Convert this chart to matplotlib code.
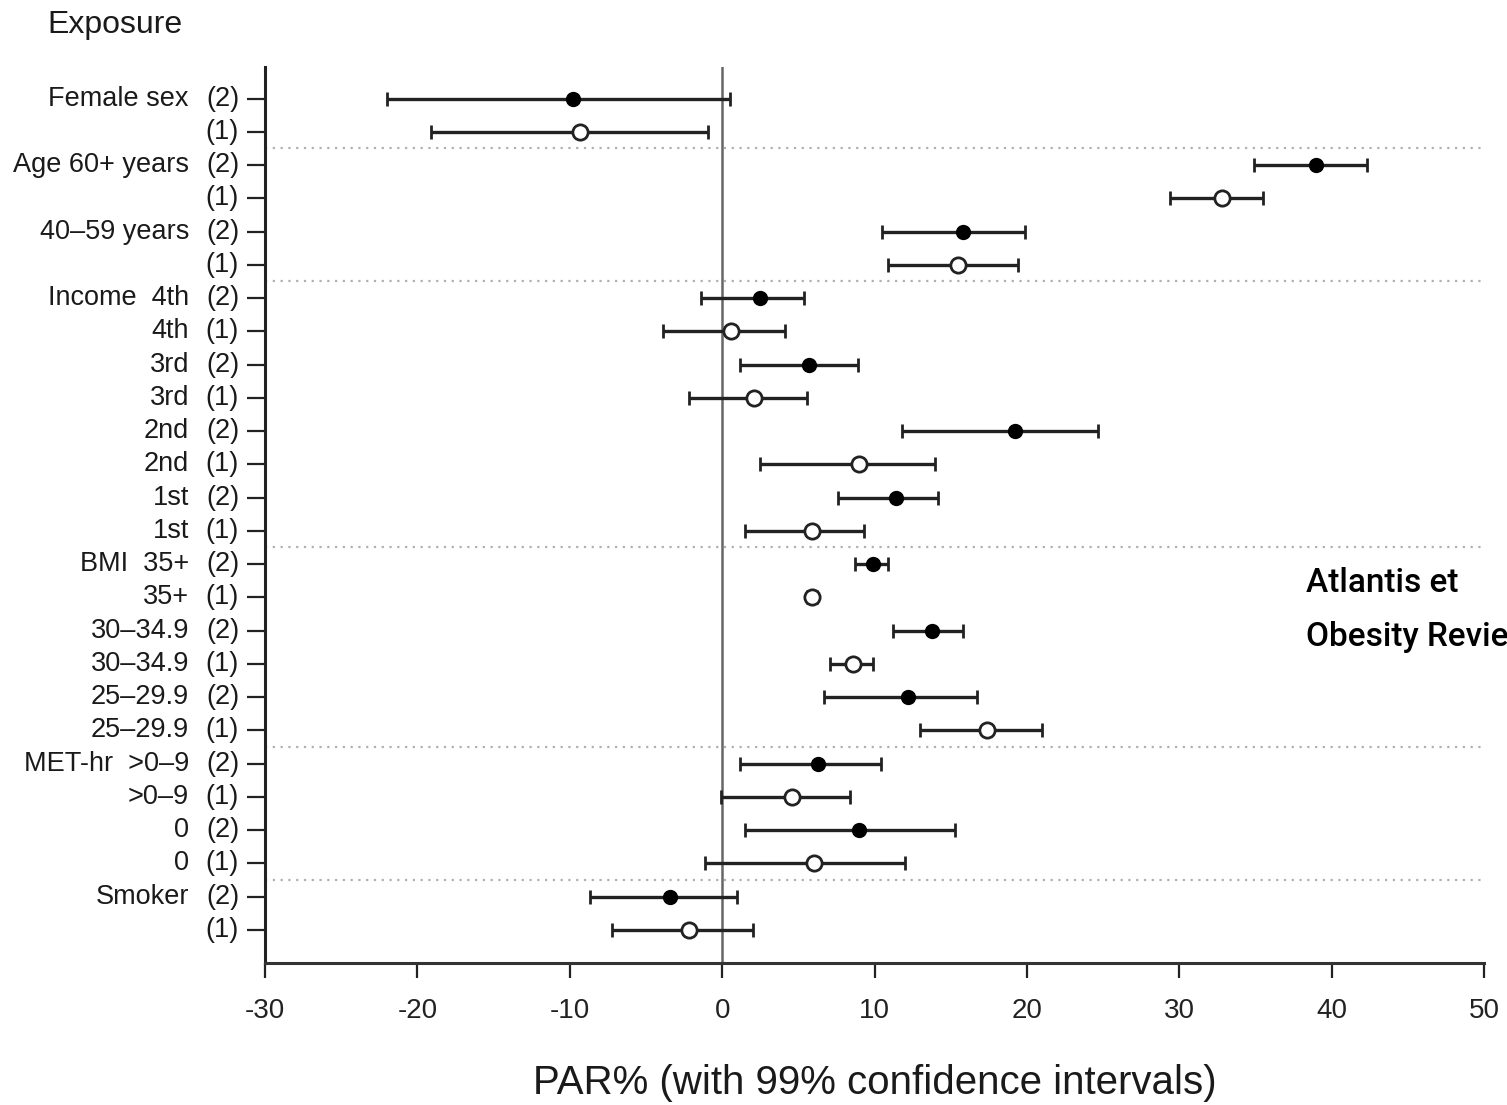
import numpy as np
import matplotlib.pyplot as plt

plt.rcParams['font.family'] = ['Liberation Sans', 'DejaVu Sans']
plt.rcParams['axes.unicode_minus'] = False

# row labels (top to bottom), model number, PAR% and 99% CI
labels = ["Female sex", "", "Age 60+ years", "", "40\u201359 years", "",
          "Income  4th", "4th", "3rd", "3rd", "2nd", "2nd", "1st", "1st",
          "BMI  35+", "35+", "30\u201334.9", "30\u201334.9", "25\u201329.9", "25\u201329.9",
          "MET-hr  >0\u20139", ">0\u20139", "0", "0", "Smoker", ""]
model = [2, 1] * 13
par = [-9.8, -9.3, 39.0, 32.8, 15.8, 15.5, 2.5, 0.6, 5.7, 2.1, 19.2, 9.0, 11.4, 5.9,
       9.9, 5.9, 13.8, 8.6, 12.2, 17.4, 6.3, 4.6, 9.0, 6.0, -3.4, -2.2]
lo = [-22.0, -19.1, 34.9, 29.4, 10.5, 10.9, -1.4, -3.9, 1.2, -2.2, 11.8, 2.5, 7.6, 1.5,
      8.7, 5.6, 11.2, 7.1, 6.7, 13.0, 1.2, -0.1, 1.5, -1.1, -8.7, -7.2]
hi = [0.5, -0.9, 42.3, 35.5, 19.9, 19.4, 5.4, 4.1, 8.9, 5.6, 24.7, 14.0, 14.2, 9.3,
      10.9, 6.2, 15.8, 9.9, 16.7, 21.0, 10.4, 8.4, 15.3, 12.0, 1.0, 2.0]
group_breaks = [2, 6, 14, 20, 24]  # dotted line after these rows

par = np.array(par)
lo = np.array(lo)
hi = np.array(hi)
model = np.array(model)
rows = np.arange(1, len(par) + 1)

fig = plt.figure(figsize=(15.07, 11.05), dpi=100)
ax = fig.add_axes([265 / 1507, 1 - 963 / 1105, (1484 - 265) / 1507, (963 - 67) / 1105])

ax.axvline(0, color='#666666', lw=1.8, zorder=1)
for b in group_breaks:
    ax.axhline(b + 0.5, color='#b0b0b0', lw=1.6, ls=(0, (1, 2.5)), zorder=0)

ax.errorbar(par, rows, xerr=[par - lo, hi - par], fmt='none', ecolor='#222222',
            elinewidth=2.4, capsize=5, capthick=2, zorder=2)
m2 = model == 2
ax.plot(par[m2], rows[m2], 'o', ms=9.5, mfc='black', mec='black', mew=1.5, ls='none', zorder=3)
ax.plot(par[~m2], rows[~m2], 'o', ms=11, mfc='white', mec='#222222', mew=2, ls='none', zorder=3)

ax.set_xlim(-30, 50)
ax.set_ylim(27.0, 0.05)
ax.set_xticks(range(-30, 51, 10))
ax.set_yticks(rows)
ax.set_yticklabels([])
ax.tick_params(axis='y', length=13, width=1.6, color='#222222')
ax.tick_params(axis='x', length=11, width=1.6, color='#222222', labelsize=20, pad=14,
               labelcolor='#222222')

for s in ['top', 'right']:
    ax.spines[s].set_visible(False)
ax.spines['left'].set_linewidth(2.2)
ax.spines['left'].set_color('#222222')
ax.spines['bottom'].set_linewidth(2.2)
ax.spines['bottom'].set_color('#333333')

ytr = ax.get_yaxis_transform()
for r, lab, m in zip(rows, labels, model):
    ax.text((189 - 265) / 1219, r, lab, transform=ytr, ha='right', va='center', fontsize=19.5, color='#1a1a1a')
    ax.text((239 - 265) / 1219, r, '(%d)' % m, transform=ytr, ha='right', va='center', fontsize=19.5, color='#1a1a1a')

ax.set_xlabel('PAR% (with 99% confidence intervals)', fontsize=29, labelpad=29, color='#1a1a1a')

fig.text(47 / 1507, 1 - 25 / 1105, 'Exposure', ha='left', va='center', fontsize=23, color='#1a1a1a')

fig.text(1306 / 1507, 1 - 583 / 1105, 'Atlantis et', ha='left', va='center',
         fontsize=24, family='Roboto', weight='medium', color='black')
fig.text(1306 / 1507, 1 - 637 / 1105, 'Obesity Revie', ha='left', va='center',
         fontsize=24, family='Roboto', weight='medium', color='black')

fig.savefig('out.png', dpi=100)
